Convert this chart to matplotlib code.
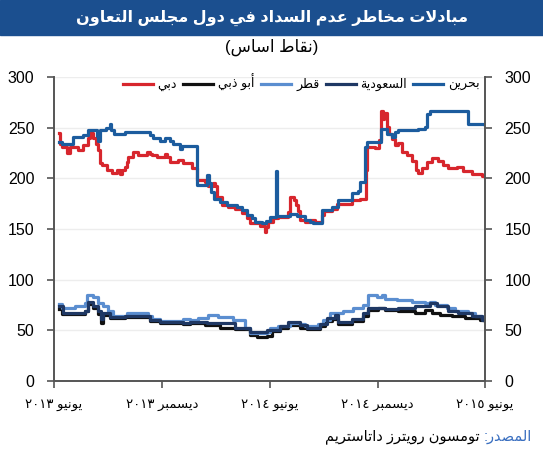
import re
import matplotlib
matplotlib.use('Agg')
import matplotlib.pyplot as plt
from matplotlib.patches import Rectangle
import pandas as pd

plt.rcParams['font.family'] = ['Liberation Sans', 'DejaVu Sans']

# ---- data (days after 1 June 2013, basis points) ----
start = pd.Timestamp('2013-06-01')

dubai_days = [8, 10, 14, 22, 27, 41, 49, 58, 61, 66, 71, 75, 78, 81, 90, 98, 107, 112, 115, 120,
              124, 125, 134, 142, 158, 163, 166, 174, 188, 191, 196, 210, 218, 234, 242, 256, 261,
              269, 273, 276, 285, 295, 307, 318, 327, 332, 346, 349, 357, 359, 362, 371, 379, 396,
              400, 406, 410, 413, 417, 425, 434, 442, 454, 457, 471, 479, 505, 518, 528, 530, 544,
              550, 554, 557, 559, 564, 567, 573, 578, 583, 589, 598, 606, 613, 617, 623, 632, 640,
              650, 659, 667, 683, 693, 708, 725, 730]
dubai = [245, 234, 231, 225, 231, 228, 233, 240, 245, 240, 234, 228, 215, 213, 208, 205, 208, 204,
         208, 211, 216, 221, 226, 223, 226, 224, 223, 221, 224, 221, 216, 218, 215, 210, 198, 196,
         192, 195, 192, 182, 174, 172, 170, 166, 161, 156, 157, 153, 147, 152, 157, 161, 162, 167,
         182, 179, 174, 168, 159, 157, 159, 157, 164, 168, 170, 175, 179, 180, 208, 231, 230, 238,
         266, 259, 264, 251, 244, 239, 233, 235, 226, 223, 217, 208, 205, 210, 216, 220, 217, 213,
         210, 211, 207, 204, 202, 201]

bahrain_days = [8, 14, 32, 49, 58, 73, 75, 78, 88, 95, 97, 102, 120, 163, 168, 180, 188, 196, 202,
                213, 217, 242, 259, 263, 266, 271, 281, 293, 310, 318, 327, 335, 340, 352, 359, 366,
                376, 378, 400, 412, 425, 434, 439, 454, 471, 481, 505, 515, 518, 527, 530, 554, 564,
                573, 578, 583, 617, 628, 632, 637, 701, 730]
bahrain = [236, 234, 241, 243, 248, 242, 237, 248, 250, 254, 248, 244, 246, 243, 240, 237, 240, 237,
           234, 229, 232, 193, 203, 195, 187, 180, 177, 174, 172, 169, 164, 161, 157, 156, 158, 162,
           207, 163, 165, 163, 159, 157, 156, 169, 172, 179, 186, 188, 196, 231, 236, 249, 244, 241,
           246, 248, 249, 251, 263, 266, 254, 253]

qatar_days = [8, 14, 36, 53, 56, 66, 75, 83, 91, 100, 124, 159, 166, 180, 218, 230, 244, 261, 278,
              303, 323, 332, 361, 366, 379, 400, 417, 425, 447, 456, 467, 489, 506, 523, 532, 547,
              556, 561, 581, 606, 628, 637, 645, 666, 679, 701, 713, 725, 730]
qatar = [76, 72, 74, 77, 85, 83, 77, 74, 69, 64, 67, 64, 61, 59, 61, 60, 62, 65, 63, 60, 52, 47, 48,
         52, 54, 57, 56, 54, 56, 60, 67, 69, 72, 75, 85, 83, 85, 81, 80, 78, 77, 78, 75, 72, 69, 67,
         64, 61, 60]

abudhabi_days = [8, 14, 53, 58, 66, 75, 80, 83, 95, 120, 163, 180, 218, 230, 256, 281, 307, 332,
                 344, 361, 369, 383, 396, 417, 429, 451, 459, 471, 481, 505, 523, 532, 549, 561,
                 583, 611, 628, 640, 654, 674, 696, 722, 730]
abudhabi = [71, 66, 69, 76, 72, 66, 57, 65, 62, 63, 59, 57, 56, 57, 55, 52, 51, 46, 44, 45, 49, 52,
            55, 52, 51, 54, 59, 61, 56, 59, 64, 70, 72, 70, 69, 67, 70, 67, 65, 64, 62, 60, 59]

saudi_days = [8, 15, 53, 58, 66, 75, 80, 83, 95, 120, 163, 180, 218, 230, 259, 307, 332, 361, 383,
              396, 417, 429, 451, 462, 476, 481, 505, 523, 532, 561, 583, 611, 637, 649, 667, 684,
              708, 725, 730]
saudi = [74, 67, 69, 78, 74, 69, 61, 67, 63, 64, 60, 58, 57, 58, 57, 52, 48, 50, 54, 58, 55, 52, 56,
         62, 65, 58, 61, 67, 72, 71, 72, 74, 77, 74, 69, 67, 64, 60, 60]

labels = ['دبي', 'أبو ذبي', 'قطر', 'السعودية', 'بحرين']
tick_dates = ['2013-06-01', '2013-12-01', '2014-06-01', '2014-12-01', '2015-06-01']
tick_texts = ['يونيو ٢٠١٣', 'ديسمبر ٢٠١٣', 'يونيو ٢٠١٤', 'ديسمبر ٢٠١٤', 'يونيو ٢٠١٥']
title = 'مبادلات مخاطر عدم السداد في دول مجلس التعاون'
subtitle = '(نقاط اساس)'
source_head = 'المصدر:'
source_body = 'تومسون رويترز داتاستريم'

# ---- minimal arabic shaping (matplotlib has no complex text layout) ----
# isolated, final, initial, medial
FORMS = {
    'ء': ('\uFE80', None, None, None),
    'آ': ('\uFE81', '\uFE82', None, None),
    'أ': ('\uFE83', '\uFE84', None, None),
    'إ': ('\uFE87', '\uFE88', None, None),
    'ا': ('\uFE8D', '\uFE8E', None, None),
    'ب': ('\uFE8F', '\uFE90', '\uFE91', '\uFE92'),
    'ة': ('\uFE93', '\uFE94', None, None),
    'ت': ('\uFE95', '\uFE96', '\uFE97', '\uFE98'),
    'ث': ('\uFE99', '\uFE9A', '\uFE9B', '\uFE9C'),
    'ج': ('\uFE9D', '\uFE9E', '\uFE9F', '\uFEA0'),
    'ح': ('\uFEA1', '\uFEA2', '\uFEA3', '\uFEA4'),
    'خ': ('\uFEA5', '\uFEA6', '\uFEA7', '\uFEA8'),
    'د': ('\uFEA9', '\uFEAA', None, None),
    'ذ': ('\uFEAB', '\uFEAC', None, None),
    'ر': ('\uFEAD', '\uFEAE', None, None),
    'ز': ('\uFEAF', '\uFEB0', None, None),
    'س': ('\uFEB1', '\uFEB2', '\uFEB3', '\uFEB4'),
    'ش': ('\uFEB5', '\uFEB6', '\uFEB7', '\uFEB8'),
    'ص': ('\uFEB9', '\uFEBA', '\uFEBB', '\uFEBC'),
    'ض': ('\uFEBD', '\uFEBE', '\uFEBF', '\uFEC0'),
    'ط': ('\uFEC1', '\uFEC2', '\uFEC3', '\uFEC4'),
    'ظ': ('\uFEC5', '\uFEC6', '\uFEC7', '\uFEC8'),
    'ع': ('\uFEC9', '\uFECA', '\uFECB', '\uFECC'),
    'غ': ('\uFECD', '\uFECE', '\uFECF', '\uFED0'),
    'ف': ('\uFED1', '\uFED2', '\uFED3', '\uFED4'),
    'ق': ('\uFED5', '\uFED6', '\uFED7', '\uFED8'),
    'ك': ('\uFED9', '\uFEDA', '\uFEDB', '\uFEDC'),
    'ل': ('\uFEDD', '\uFEDE', '\uFEDF', '\uFEE0'),
    'م': ('\uFEE1', '\uFEE2', '\uFEE3', '\uFEE4'),
    'ن': ('\uFEE5', '\uFEE6', '\uFEE7', '\uFEE8'),
    'ه': ('\uFEE9', '\uFEEA', '\uFEEB', '\uFEEC'),
    'و': ('\uFEED', '\uFEEE', None, None),
    'ى': ('\uFEEF', '\uFEF0', None, None),
    'ي': ('\uFEF1', '\uFEF2', '\uFEF3', '\uFEF4'),
    '\uFEFB': ('\uFEFB', '\uFEFC', None, None),
    '\uFEF7': ('\uFEF7', '\uFEF8', None, None),
}


def shape(text):
    text = text.replace('لا', '\uFEFB').replace('لأ', '\uFEF7')
    out = []
    for i, c in enumerate(text):
        if c not in FORMS:
            out.append(c)
            continue
        prev = text[i - 1] if i > 0 else ''
        nxt = text[i + 1] if i + 1 < len(text) else ''
        jp = prev in FORMS and FORMS[prev][2] is not None
        jn = nxt in FORMS and FORMS[c][2] is not None
        iso, fin, ini, med = FORMS[c]
        if jp and jn:
            out.append(med)
        elif jp:
            out.append(fin)
        elif jn:
            out.append(ini)
        else:
            out.append(iso)
    return ''.join(out)


def ar(text):
    parts = re.findall(r'[0-9\u0660-\u0669]+|[^0-9\u0660-\u0669]', shape(text))
    parts.reverse()
    mirror = {'(': ')', ')': '('}
    return ''.join(mirror.get(p, p) for p in parts)


def to_dates(days):
    return start + pd.to_timedelta(days, unit='D')


# ---- figure ----
fig = plt.figure(figsize=(5.43, 4.5), dpi=100)
fig.patches.append(Rectangle((0, 1 - 35 / 450), 1, 35 / 450, transform=fig.transFigure,
                             color='#1B4F8F', zorder=0))
fig.text(0.5, 1 - 18 / 450, ar(title), color='white', fontsize=11.5, fontweight='bold',
         ha='center', va='center')
fig.text(0.5, 1 - 47 / 450, ar(subtitle), fontsize=12, ha='center', va='center')

ax = fig.add_axes([0.0994, 0.153, 0.794, 0.676])

series = [(dubai_days, dubai, '#D7262D'),
          (abudhabi_days, abudhabi, '#111111'),
          (qatar_days, qatar, '#5B8ED0'),
          (saudi_days, saudi, '#1F3864'),
          (bahrain_days, bahrain, '#1C5C9E')]
for (d, v, col), lab in zip(series, labels):
    ax.plot(to_dates(d), v, color=col, lw=2.3, drawstyle='steps-post', label=ar(lab))

ax.set_ylim(0, 300)
ax.set_yticks(range(0, 301, 50))
ax.set_xlim(pd.Timestamp('2013-06-01'), pd.Timestamp('2015-06-01'))
ax.set_xticks([pd.Timestamp(t) for t in tick_dates])
ax.set_xticklabels([ar(t) for t in tick_texts], fontsize=9.5)

ax.yaxis.grid(True, color='#EDEDED', lw=1)
ax.set_axisbelow(True)
for s in ['left', 'right', 'bottom']:
    ax.spines[s].set_color('#555555')
    ax.spines[s].set_linewidth(1.4)
ax.spines['top'].set_visible(False)
ax.tick_params(axis='y', left=True, right=True, labelleft=True, labelright=True,
               length=5, width=1.2, color='#555555', labelsize=11.5, pad=9)
ax.tick_params(axis='x', length=5, width=1.2, color='#555555', pad=8)

ax.legend(loc='upper right', bbox_to_anchor=(1.0, 1.025), ncol=5, frameon=False,
          fontsize=9, handlelength=2.4, columnspacing=0.5, handletextpad=0.4,
          borderaxespad=0.0)

# source line: blue head on the right, black body to its left
renderer = fig.canvas.get_renderer()
head = fig.text(0.98, 0.03, ar(source_head), color='#3A6FC0', fontsize=10.5, ha='right',
                va='center')
bb = head.get_window_extent(renderer)
x_head = bb.x0 / fig.bbox.width
fig.text(x_head - 0.008, 0.03, ar(source_body), color='black', fontsize=10.5, ha='right',
         va='center')

fig.savefig('out.png', dpi=100)
